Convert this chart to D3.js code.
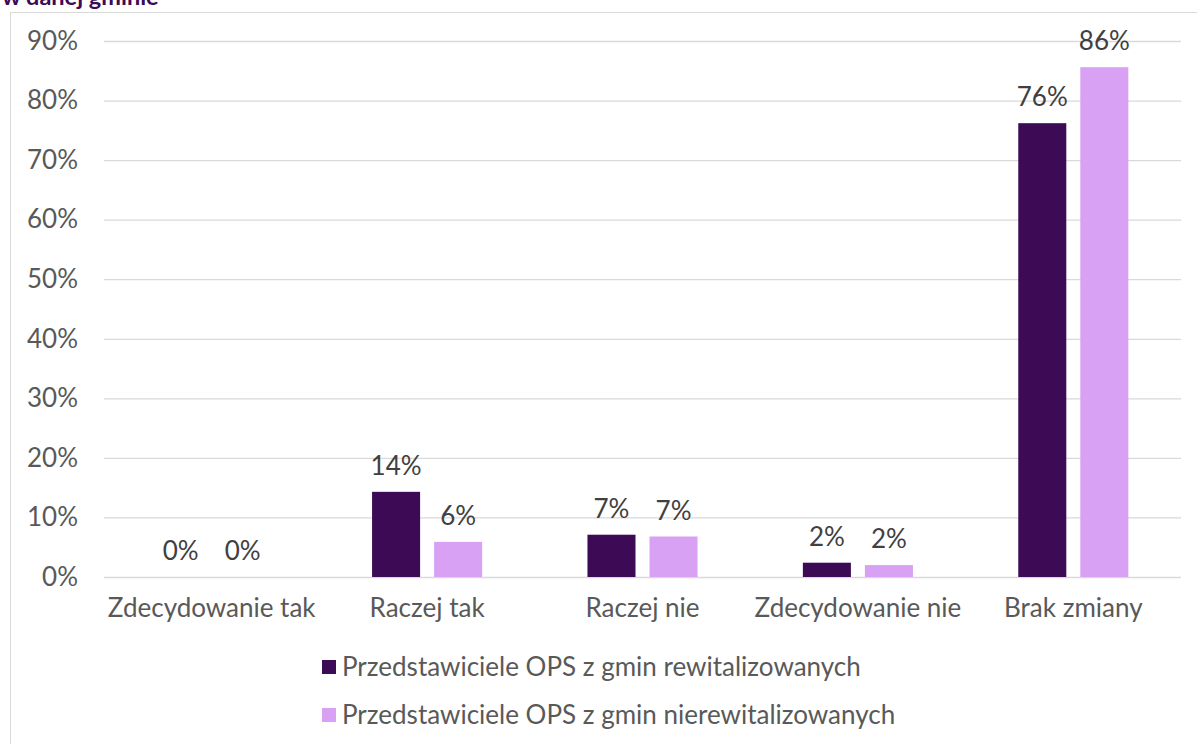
<!DOCTYPE html>
<html><head><meta charset="utf-8">
<script src="https://cdn.jsdelivr.net/npm/d3@7/dist/d3.min.js"></script>
<style>body{margin:0;background:#fff}svg{display:block}text{font-family:Lato,"Open Sans",sans-serif}</style>
</head><body><svg id="c" width="1197" height="744"></svg>
<script>
const categories = ["Zdecydowanie tak","Raczej tak","Raczej nie","Zdecydowanie nie","Brak zmiany"];
const seriesNames = ["Przedstawiciele OPS z gmin rewitalizowanych","Przedstawiciele OPS z gmin nierewitalizowanych"];
const rewitalizowane = [0, 14.3, 7.1, 2.4, 76.2];
const nierewitalizowane = [0, 5.9, 6.8, 2.0, 85.6];
const labelsRew = ["0%","14%","7%","2%","76%"];
const labelsNierew = ["0%","6%","7%","2%","86%"];
const yTicks = [0,10,20,30,40,50,60,70,80,90];
const colors = ["#3D0A55","#D8A1F4"];
const title = "w danej gminie";

const FS = 26;
const svg = d3.select("#c");
svg.append("rect").attr("x",10.5).attr("y",12.5).attr("width",1200).attr("height",800)
  .attr("fill","#fff").attr("stroke","#d9d9d9").attr("stroke-width",1);
svg.append("text").attr("x",2).attr("y",5).attr("font-size",23.5).attr("font-weight","bold")
  .attr("fill","#3D0A55").text(title);

const pL=104, pR=1181, pT=41, pB=577;
const y = d3.scaleLinear().domain([0,90]).range([pB,pT]);
const x0 = d3.scaleBand().domain(categories).range([pL,pR]).paddingInner(0.489).paddingOuter(0.2445);
const x1 = d3.scaleBand().domain([0,1]).range([0,x0.bandwidth()]).paddingInner(0.2258);

const g = svg.append("g");
const yAxis = d3.axisLeft(y).tickValues(yTicks).tickFormat(d=>d+"%").tickSize(-(pR-pL)).tickPadding(26);
const ya = g.append("g").attr("transform",`translate(${pL},0)`).call(yAxis);
ya.select(".domain").remove();
ya.selectAll(".tick line").attr("stroke","#d9d9d9").attr("stroke-width",1.3);
ya.selectAll(".tick text").attr("font-size",FS).attr("fill","#595959").attr("font-family","Lato");

const xAxis = d3.axisBottom(x0).tickSize(0).tickPadding(22);
const xa = g.append("g").attr("transform",`translate(0,${pB})`).call(xAxis);
xa.select(".domain").remove();
xa.selectAll(".tick text").attr("font-size",FS).attr("fill","#595959").attr("font-family","Lato");

const data = [rewitalizowane, nierewitalizowane];
const labs = [labelsRew, labelsNierew];
data.forEach((vals,s)=>{
  const gg = g.append("g");
  gg.selectAll("rect").data(vals).join("rect")
    .attr("x",(d,i)=>x0(categories[i])+x1(s))
    .attr("width",x1.bandwidth())
    .attr("y",d=>y(d)).attr("height",d=>pB-y(d))
    .attr("fill",colors[s]);
  gg.selectAll("text").data(vals).join("text")
    .attr("x",(d,i)=>x0(categories[i])+x1(s)+x1.bandwidth()/2)
    .attr("y",d=>y(d)-17)
    .attr("text-anchor","middle").attr("font-size",FS).attr("fill","#404040")
    .text((d,i)=>labs[s][i]);
});

const leg = svg.append("g");
seriesNames.forEach((n,i)=>{
  const yy = 667 + i*48;
  leg.append("rect").attr("x",322).attr("y",yy-7).attr("width",14).attr("height",14).attr("fill",colors[i]);
  leg.append("text").attr("x",342).attr("y",yy).attr("dy","0.35em").attr("font-size",FS).attr("fill","#595959").text(n);
});
</script></body></html>
